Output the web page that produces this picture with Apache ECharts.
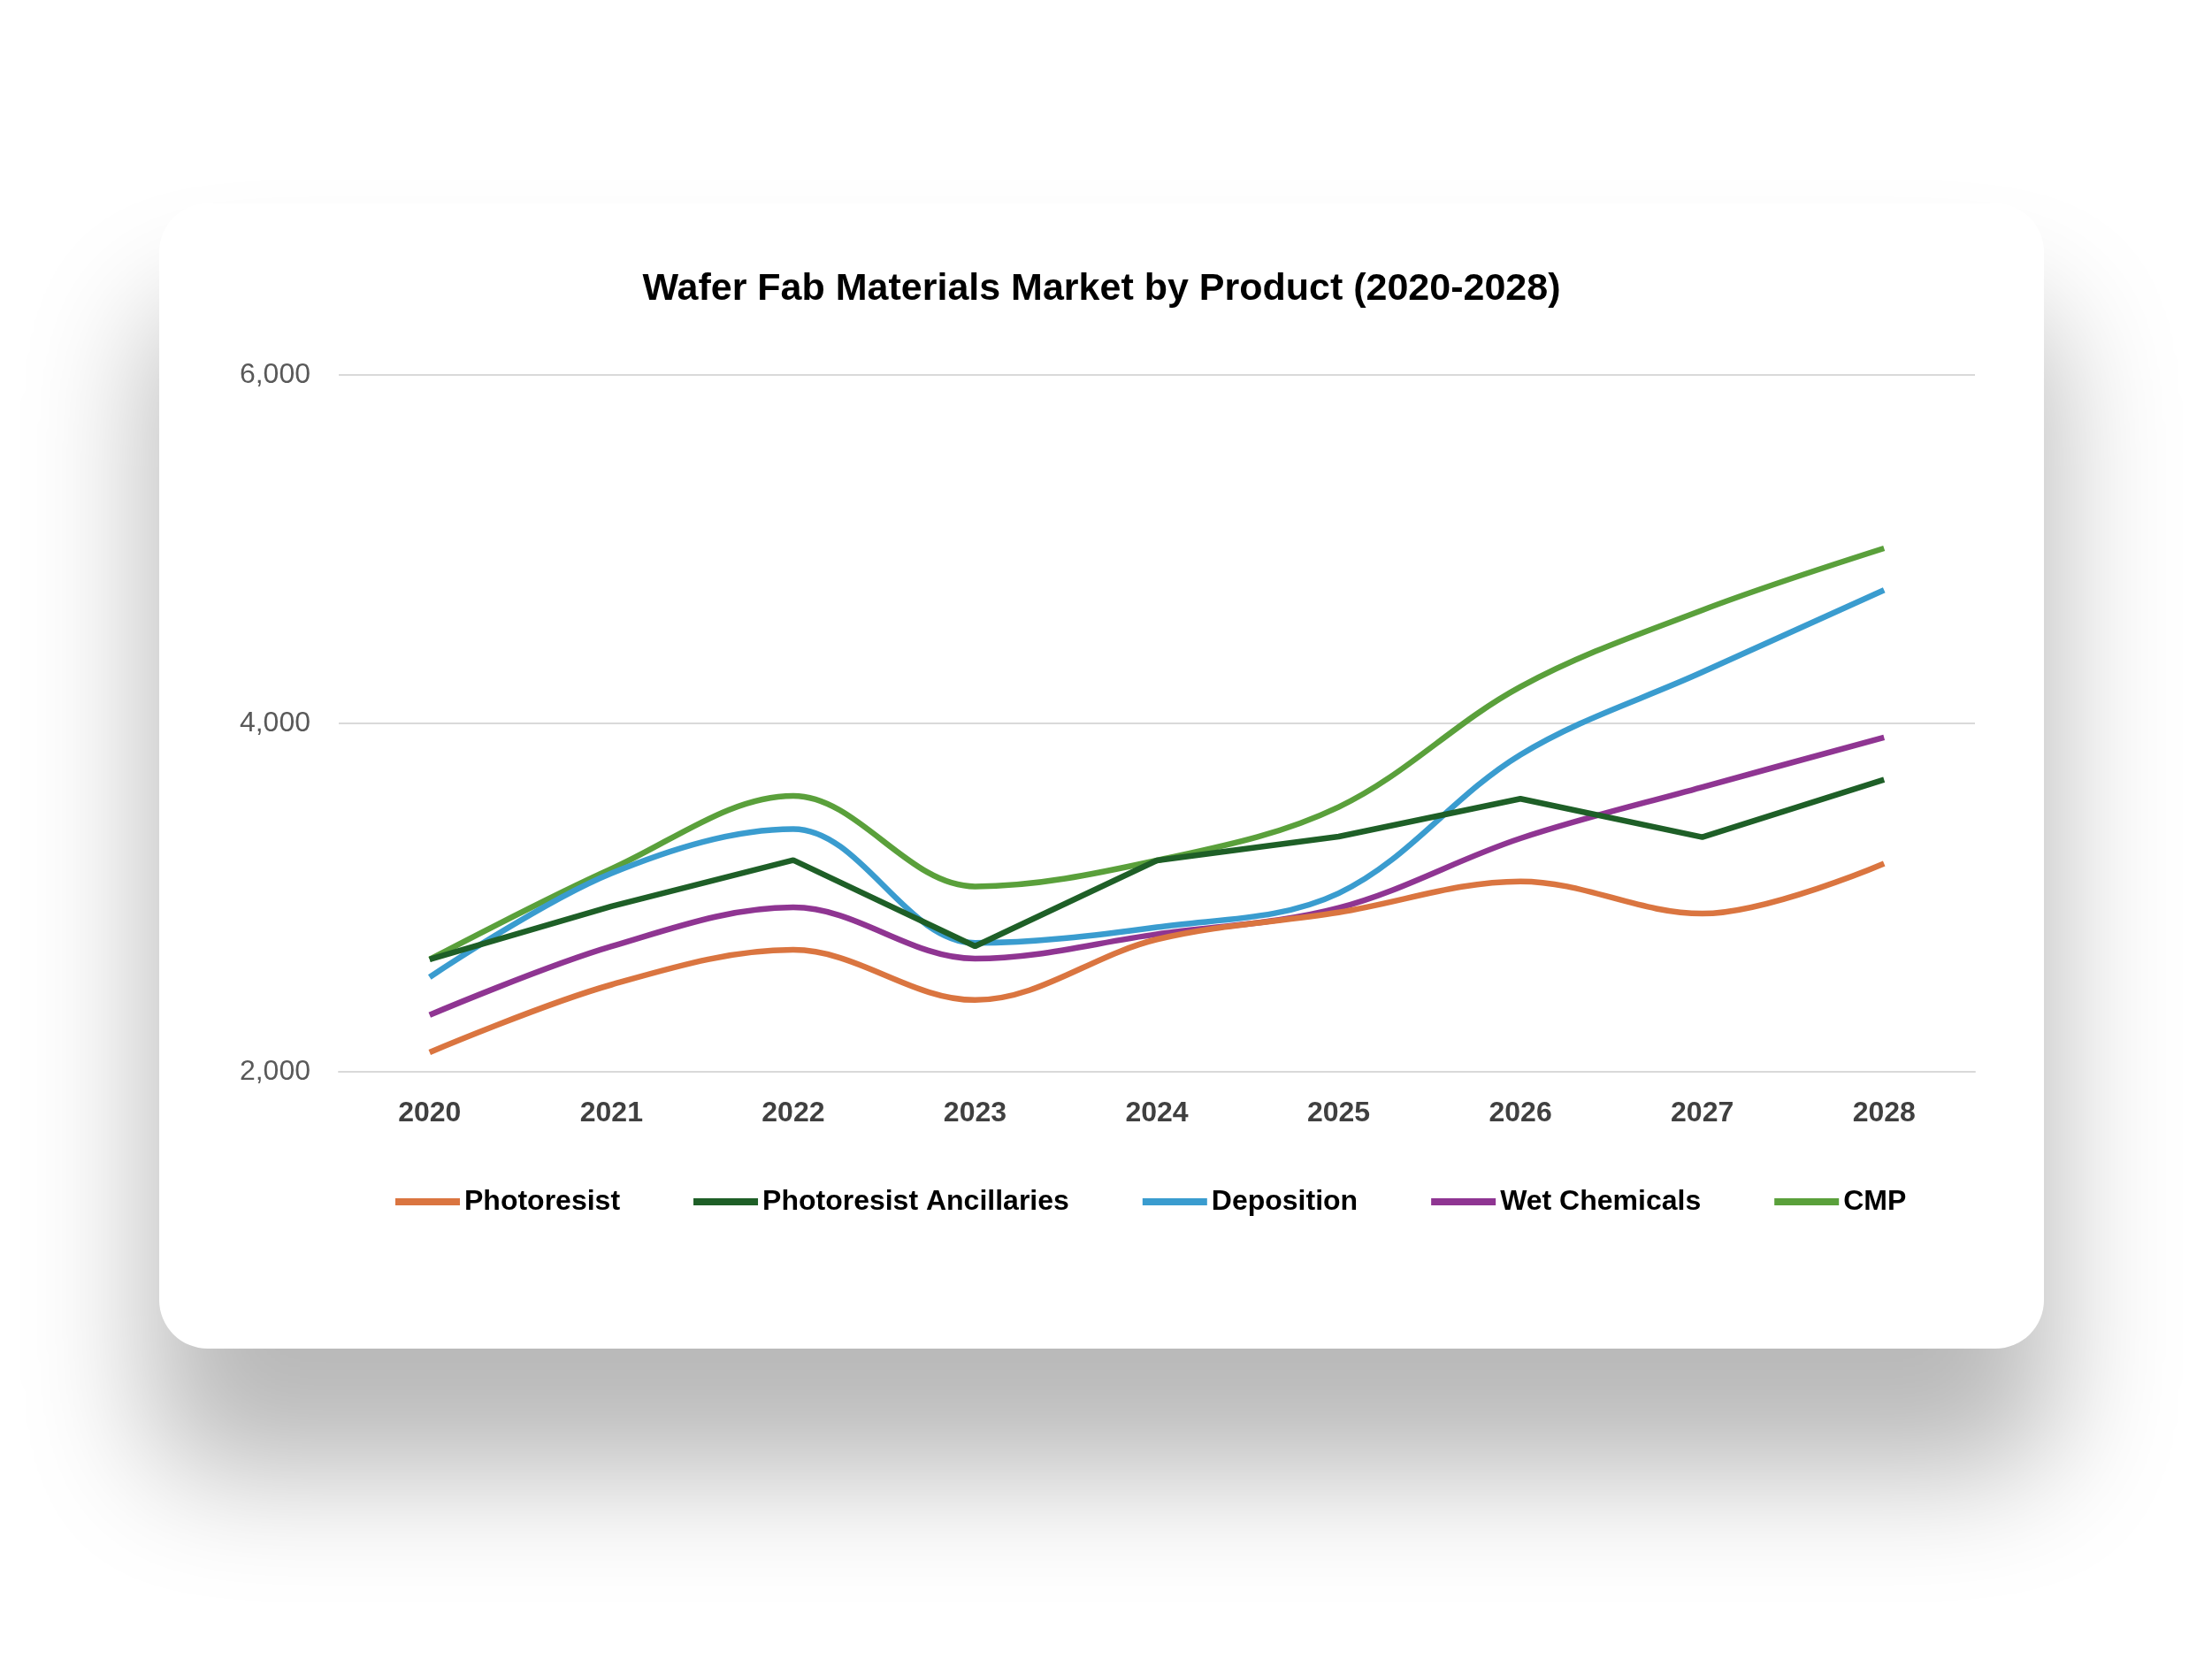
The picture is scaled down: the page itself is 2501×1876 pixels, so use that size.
<!DOCTYPE html>
<html>
<head>
<meta charset="utf-8">
<title>Wafer Fab Materials Market by Product</title>
<script src="https://cdn.jsdelivr.net/npm/echarts@6/dist/echarts.min.js"></script>
<style>
  html, body { margin: 0; padding: 0; background: #ffffff; width: 2501px; height: 1876px; overflow: hidden; }
  .card {
    position: absolute;
    left: 180px; top: 230px;
    width: 2131px; height: 1295px;
    background: #ffffff;
    border-radius: 55px;
    box-shadow: 0 130px 140px 10px rgba(0, 0, 0, 0.28);
  }
  #chart { width: 2131px; height: 1295px; }
</style>
</head>
<body>
<div class="card"><div id="chart"></div></div>
<script>
// years on the x axis
const years = ['2020', '2021', '2022', '2023', '2024', '2025', '2026', '2027', '2028']

// series values
const photoresist = [2112, 2500, 2700, 2412, 2760, 2915, 3093, 2908, 3195]
const ancillaries = [2645, 2950, 3215, 2721, 3213, 3350, 3567, 3347, 3677]
const deposition = [2543, 3140, 3394, 2740, 2830, 3025, 3820, 4294, 4765]
const wetChemicals = [2326, 2720, 2944, 2650, 2790, 2941, 3340, 3634, 3919]
const cmp = [2645, 3165, 3584, 3064, 3213, 3520, 4210, 4650, 5005]

const names = ['Photoresist', 'Photoresist Ancillaries', 'Deposition', 'Wet Chemicals', 'CMP']
const colors = ['#DA7540', '#1E5F27', '#3A9CCF', '#8F3592', '#5AA03B']
const values = [photoresist, ancillaries, deposition, wetChemicals, cmp]
const smoothFlags = [true, false, true, true, true]

const font = '"Liberation Sans", Arial, sans-serif'

let chartDom = document.getElementById('chart')
let myChart = echarts.init(chartDom)

let series = names.map(function (name, i) {
  return {
    name: name,
    type: 'line',
    data: values[i],
    smooth: smoothFlags[i] ? 0.35 : false,
    showSymbol: false,
    symbol: 'none',
    lineStyle: { width: 6.5, color: colors[i] },
    itemStyle: { color: colors[i] },
    z: 10 - i
  }
})

let option = {
  animation: false,
  title: {
    text: 'Wafer Fab Materials Market by Product (2020-2028)',
    left: 'center',
    top: 76,
    padding: 0,
    textStyle: { fontFamily: font, fontSize: 43, fontWeight: 'bold', color: '#000000' }
  },
  legend: {
    data: names,
    left: 267,
    top: 1113,
    padding: 0,
    itemGap: 83,
    itemWidth: 73,
    itemHeight: 8,
    icon: 'rect',
    textStyle: { fontFamily: font, fontSize: 32, fontWeight: 'bold', color: '#000000' }
  },
  grid: { left: 203, right: 78, top: 194, bottom: 313, containLabel: false },
  xAxis: {
    type: 'category',
    data: years,
    boundaryGap: true,
    axisLine: { show: true, lineStyle: { color: '#d9d9d9', width: 2 } },
    axisTick: { show: false },
    axisLabel: { margin: 31, fontFamily: font, fontSize: 32, fontWeight: 'bold', color: '#404040' }
  },
  yAxis: {
    type: 'value',
    min: 2000,
    max: 6000,
    interval: 2000,
    axisLine: { show: false },
    axisTick: { show: false },
    splitLine: { lineStyle: { color: '#d9d9d9', width: 2 } },
    axisLabel: {
      margin: 32,
      fontFamily: font,
      fontSize: 32,
      color: '#595959',
      formatter: function (v) { return v.toLocaleString('en-US') }
    }
  },
  series: series
}

myChart.setOption(option)
</script>
</body>
</html>
